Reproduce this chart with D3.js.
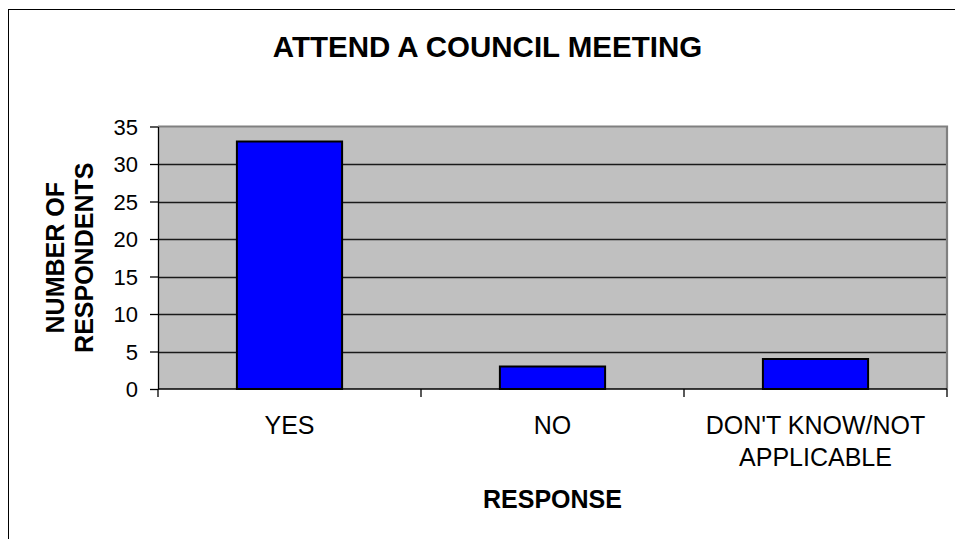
<!DOCTYPE html>
<html>
<head>
<meta charset="utf-8">
<script src="https://cdn.jsdelivr.net/npm/d3@7"></script>
<style>
  html, body { margin: 0; padding: 0; background: #fff; }
  svg { display: block; font-family: Arial, "Liberation Sans", sans-serif; }
</style>
</head>
<body>
<svg id="chart" width="955" height="539"></svg>
<script>
// Survey responses: attending a council meeting
const categories = ["YES", "NO", "DON'T KNOW/NOT APPLICABLE"];
const categoryLines = [["YES"], ["NO"], ["DON'T KNOW/NOT", "APPLICABLE"]];
const respondents = [33, 3, 4];
const yTicks = [0, 5, 10, 15, 20, 25, 30, 35];

const chartTitle = "ATTEND A COUNCIL MEETING";
const yTitleLines = ["NUMBER OF", "RESPONDENTS"];
const xTitle = "RESPONSE";

const svg = d3.select("#chart");

// chart-area frame (extends past the right and bottom edges)
svg.append("rect")
  .attr("x", 8.5).attr("y", 9.5)
  .attr("width", 1000).attr("height", 1000)
  .attr("fill", "#fff").attr("stroke", "#000").attr("stroke-width", 1);

const plot = { left: 158, right: 947, top: 126.5, bottom: 389 };

const y = d3.scaleLinear().domain([0, 35]).range([plot.bottom, plot.top]);
const xCat = d3.scaleBand().domain(categories).range([plot.left, plot.right]).padding(0);
const xBar = d3.scaleBand().domain(categories).range([plot.left, plot.right])
  .paddingInner(0.6).paddingOuter(0.3);

// plot background
svg.append("rect")
  .attr("x", plot.left).attr("y", plot.top)
  .attr("width", plot.right - plot.left).attr("height", plot.bottom - plot.top)
  .attr("fill", "#c0c0c0");

// horizontal gridlines
svg.append("g").selectAll("line")
  .data(yTicks.filter(d => d > 0 && d < 35))
  .join("line")
  .attr("x1", plot.left).attr("x2", plot.right)
  .attr("y1", d => Math.round(y(d)) + 0.5).attr("y2", d => Math.round(y(d)) + 0.5)
  .attr("stroke", "#1a1a1a").attr("stroke-width", 1.3);

// top and right plot edges
svg.append("path")
  .attr("d", `M${plot.left},${plot.top} H${plot.right} V${plot.bottom}`)
  .attr("fill", "none").attr("stroke", "#808080").attr("stroke-width", 2.2);

// bars
svg.append("g").selectAll("rect")
  .data(categories)
  .join("rect")
  .attr("x", d => xBar(d))
  .attr("y", (d, i) => y(respondents[i]))
  .attr("width", xBar.bandwidth())
  .attr("height", (d, i) => y(0) - y(respondents[i]))
  .attr("fill", "#0000ff")
  .attr("stroke", "#000").attr("stroke-width", 2);

// y axis
const yAxis = svg.append("g")
  .attr("transform", `translate(${plot.left},0)`)
  .call(d3.axisLeft(y).tickValues(yTicks).tickSize(8).tickSizeOuter(0).tickPadding(12));
yAxis.select(".domain").attr("stroke", "#000").attr("stroke-width", 1.3);
yAxis.selectAll(".tick line").attr("stroke", "#000").attr("stroke-width", 1.3);
yAxis.selectAll(".tick text")
  .attr("font-size", 22).attr("font-family", "Arial, 'Liberation Sans', sans-serif")
  .attr("fill", "#000").attr("dy", "0.36em");

// x axis: baseline plus category boundary ticks
svg.append("line")
  .attr("x1", plot.left).attr("x2", plot.right)
  .attr("y1", plot.bottom).attr("y2", plot.bottom)
  .attr("stroke", "#000").attr("stroke-width", 1.6);
const boundaries = categories.map(d => xCat(d)).concat([xCat(categories[categories.length - 1]) + xCat.bandwidth()]);
svg.append("g").selectAll("line")
  .data(boundaries)
  .join("line")
  .attr("x1", d => d).attr("x2", d => d)
  .attr("y1", plot.bottom).attr("y2", plot.bottom + 8)
  .attr("stroke", "#000").attr("stroke-width", 1.3);

// category labels
const labels = svg.append("g")
  .attr("font-size", 25).attr("text-anchor", "middle").attr("fill", "#000");
categories.forEach((c, i) => {
  const t = labels.append("text")
    .attr("x", xCat(c) + xCat.bandwidth() / 2)
    .attr("y", 433.5);
  categoryLines[i].forEach((line, j) => {
    t.append("tspan")
      .attr("x", xCat(c) + xCat.bandwidth() / 2)
      .attr("dy", j === 0 ? 0 : 32)
      .text(line);
  });
});

// chart title
svg.append("text")
  .attr("x", 487.5).attr("y", 57)
  .attr("text-anchor", "middle")
  .attr("font-size", 29.5).attr("font-weight", "bold")
  .text(chartTitle);

// x axis title
svg.append("text")
  .attr("x", (plot.left + plot.right) / 2).attr("y", 508)
  .attr("text-anchor", "middle")
  .attr("font-size", 25).attr("font-weight", "bold")
  .text(xTitle);

// y axis title (two rotated lines)
const yCenter = (plot.top + plot.bottom) / 2;
const yTitle = svg.append("text")
  .attr("transform", `translate(64,${yCenter}) rotate(-90)`)
  .attr("text-anchor", "middle")
  .attr("font-size", 25).attr("font-weight", "bold");
yTitleLines.forEach((line, j) => {
  yTitle.append("tspan")
    .attr("x", 0).attr("dy", j === 0 ? 0 : 29)
    .text(line);
});
</script>
</body>
</html>
